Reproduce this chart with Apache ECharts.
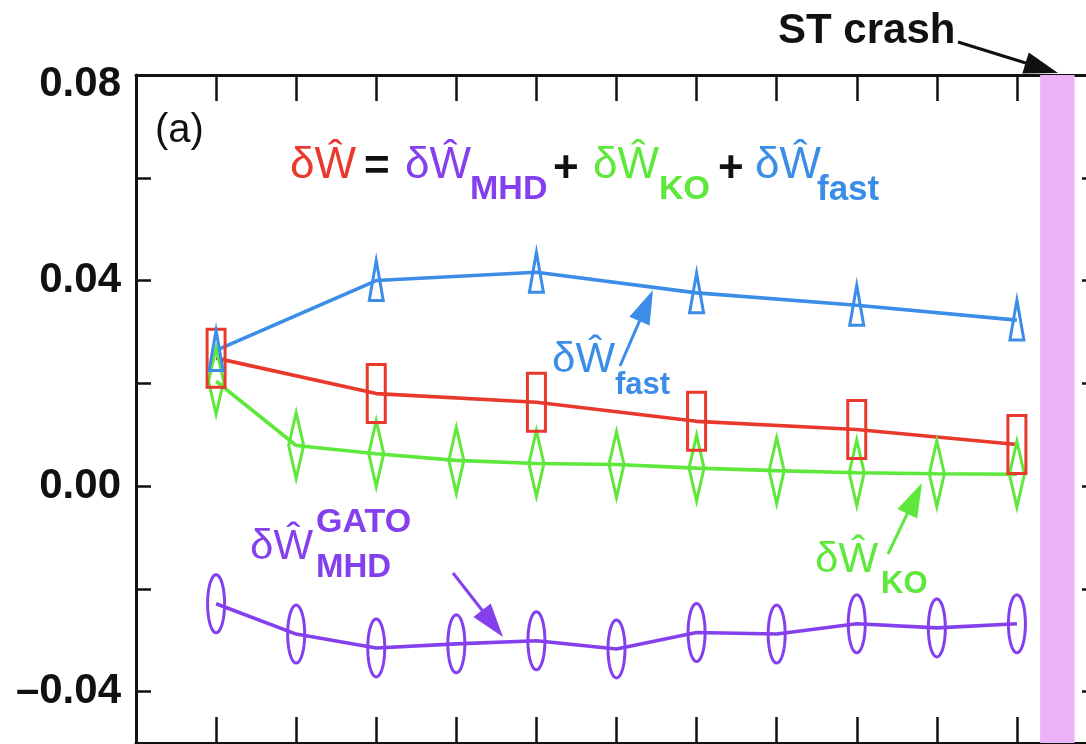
<!DOCTYPE html>
<html>
<head>
<meta charset="utf-8">
<script src="https://cdn.jsdelivr.net/npm/echarts@6/dist/echarts.min.js"></script>
<style>
html,body{margin:0;padding:0;background:#fff;}
#chart{width:1086px;height:744px;}
</style>
</head>
<body>
<div id="chart"></div>
<script>
// ---- data ----
const timeIndex   = [1, 2, 3, 4, 5, 6, 7, 8, 9, 10, 11];
const sparseIndex = [1, 3, 5, 7, 9, 11];
const dW_total    = [0.0249, 0.0180, 0.0163, 0.0126, 0.0110, 0.0081];
const dW_fast     = [0.0264, 0.0400, 0.0416, 0.0376, 0.0352, 0.0323];
const dW_KO       = [0.0204, 0.0079, 0.0063, 0.0050, 0.0044, 0.0042, 0.0035, 0.0030, 0.0026, 0.0024, 0.0023];
const dW_MHD_GATO = [-0.0229, -0.0288, -0.0315, -0.0307, -0.0301, -0.0317, -0.0285, -0.0288, -0.0268, -0.0276, -0.0268];
const yTickValues  = [-0.04, -0.02, 0, 0.02, 0.04, 0.06, 0.08];
const yLabelValues = [-0.04, 0, 0.04, 0.08];
const stCrashBand  = [11.29, 11.72];

// ---- styling ----
const RED = '#e8392c', BLUE = '#3b8de8', GREEN = '#5ee83c', PURPLE = '#8540ee', PINK = '#ecb2f7', INK = '#111';
const FONT = '"Liberation Sans", Arial, Helvetica, sans-serif';
const LABEL_SIZE = 42;

const pair = (xs, ys) => xs.map((x, i) => [x, ys[i]]);

function xAx(pos) {
  return {
    type: 'value', position: pos, min: 0, max: 12, interval: 1,
    axisLine: { show: true, onZero: false, lineStyle: { color: INK, width: 3 } },
    axisTick: { show: true, inside: true, length: 26, customValues: timeIndex, lineStyle: { color: INK, width: 2.5 } },
    axisLabel: { show: false },
    splitLine: { show: false }
  };
}
const labelStyle = { color: INK, fontFamily: FONT, fontWeight: 'bold', fontSize: LABEL_SIZE };
function yAx(pos, labels) {
  return {
    type: 'value', position: pos, min: -0.05, max: 0.08,
    axisLine: { show: true, onZero: false, lineStyle: { color: INK, width: 3 } },
    axisTick: { show: true, inside: true, length: 15, customValues: yTickValues, lineStyle: { color: INK, width: 2.5 } },
    axisLabel: Object.assign({
      show: labels, customValues: yLabelValues, margin: 15,
      formatter: v => {
        const s = (v < 0 ? '\u2013' : '') + Math.abs(v).toFixed(2);
        return v >= 0.079 ? '{mx|' + s + '}' : s;
      },
      rich: { mx: Object.assign({ padding: [18, 0, 0, 0] }, labelStyle) }
    }, labelStyle),
    splitLine: { show: false }
  };
}
function lineSeries(name, data, color) {
  return {
    name, type: 'line', data, z: 2, clip: false, showSymbol: false, symbol: 'none',
    lineStyle: { color, width: 3.6 },
    emphasis: { disabled: true }, silent: true
  };
}
// marker shapes drawn in pixel space around the data point (hollow, uniform stroke)
function markerSeries(name, data, color, kind, w, h) {
  return {
    name, type: 'custom', data, z: 3, silent: true, clip: false,
    renderItem: (params, api) => {
      const p = api.coord([api.value(0), api.value(1)]);
      const cx = p[0], cy = p[1], hw = w / 2, hh = h / 2;
      const style = { fill: 'none', stroke: color, lineWidth: 3 };
      if (kind === 'rect') {
        return { type: 'rect', shape: { x: cx - hw, y: cy - hh, width: w, height: h }, style };
      }
      let pts;
      if (kind === 'diamond') pts = [[cx, cy - hh], [cx + hw, cy], [cx, cy + hh], [cx - hw, cy]];
      else if (kind === 'triangle') pts = [[cx, cy - hh], [cx + hw, cy + hh], [cx - hw, cy + hh]];
      else {
        pts = [];
        for (let k = 0; k < 48; k++) {
          const t = k / 48 * Math.PI * 2;
          pts.push([cx + hw * Math.cos(t), cy + hh * Math.sin(t)]);
        }
      }
      return { type: 'polygon', shape: { points: pts }, style };
    }
  };
}
function txt(x, y, text, color, size, weight) {
  return { type: 'text', x, y, silent: true, z: 100,
    style: { text, fill: color, fontSize: size, fontWeight: weight || 'normal', fontFamily: FONT,
             align: 'left', verticalAlign: 'middle', textAlign: 'left', textVerticalAlign: 'middle' } };
}
function arrow(x1, y1, x2, y2, color, headLen, headW) {
  const dx = x2 - x1, dy = y2 - y1, L = Math.hypot(dx, dy), ux = dx / L, uy = dy / L;
  const bx = x2 - ux * headLen, by = y2 - uy * headLen, px = -uy, py = ux;
  return [
    { type: 'line', silent: true, z: 100, shape: { x1, y1, x2: bx + ux * 2, y2: by + uy * 2 }, style: { stroke: color, lineWidth: 3 } },
    { type: 'polygon', silent: true, z: 100, shape: { points: [[x2, y2], [bx + px * headW / 2, by + py * headW / 2], [bx - px * headW / 2, by - py * headW / 2]] }, style: { fill: color } }
  ];
}

const graphics = [
  txt(155, 131, '(a)', INK, 40, 'normal'),
  // formula
  txt(290, 166, 'δŴ', RED, 44),
  txt(364, 168, '=', INK, 44, 'bold'),
  txt(405, 166, 'δŴ', PURPLE, 44),
  txt(470, 190, 'MHD', PURPLE, 34, 'bold'),
  txt(553, 170, '+', INK, 44, 'bold'),
  txt(593, 166, 'δŴ', GREEN, 44),
  txt(659, 190, 'KO', GREEN, 34, 'bold'),
  txt(718, 170, '+', INK, 44, 'bold'),
  txt(755, 166, 'δŴ', BLUE, 44),
  txt(817, 190, 'fast', BLUE, 35, 'bold'),
  // curve labels
  txt(552, 360, 'δŴ', BLUE, 42),
  txt(615, 385, 'fast', BLUE, 31, 'bold'),
  txt(815, 560, 'δŴ', GREEN, 42),
  txt(881, 584, 'KO', GREEN, 31, 'bold'),
  txt(250, 547, 'δŴ', PURPLE, 42),
  txt(316, 523, 'GATO', PURPLE, 34, 'bold'),
  txt(316, 568, 'MHD', PURPLE, 33, 'bold'),
  txt(778, 31, 'ST crash', INK, 42, 'bold'),
  ...arrow(958, 42, 1058, 73, INK, 34, 22),
  ...arrow(620, 366, 653, 290, BLUE, 34, 22),
  ...arrow(888, 554, 922, 483, GREEN, 34, 22),
  ...arrow(453, 573, 503, 637, PURPLE, 34, 22)
];

const chart = echarts.init(document.getElementById('chart'), null, { renderer: 'canvas' });
chart.setOption({
  animation: false,
  backgroundColor: '#fff',
  grid: { left: 136, right: -11, top: 75, bottom: 1, containLabel: false, outerBoundsMode: 'none' },
  xAxis: [xAx('bottom'), xAx('top')],
  yAxis: [yAx('left', true), yAx('right', false)],
  series: [
    Object.assign(lineSeries('dW_KO', pair(timeIndex, dW_KO), GREEN), {
      markArea: { silent: true, itemStyle: { color: PINK }, data: [[{ xAxis: stCrashBand[0] }, { xAxis: stCrashBand[1] }]] }
    }),
    lineSeries('dW_MHD_GATO', pair(timeIndex, dW_MHD_GATO), PURPLE),
    lineSeries('dW_total', pair(sparseIndex, dW_total), RED),
    lineSeries('dW_fast', pair(sparseIndex, dW_fast), BLUE),
    markerSeries('dW_KO markers', pair(timeIndex, dW_KO), GREEN, 'diamond', 15, 66),
    markerSeries('dW_MHD_GATO markers', pair(timeIndex, dW_MHD_GATO), PURPLE, 'ellipse', 17, 58),
    markerSeries('dW_total markers', pair(sparseIndex, dW_total), RED, 'rect', 18, 58),
    markerSeries('dW_fast markers', pair(sparseIndex, dW_fast), BLUE, 'triangle', 14, 40)
  ],
  graphic: graphics
});
</script>
</body>
</html>
